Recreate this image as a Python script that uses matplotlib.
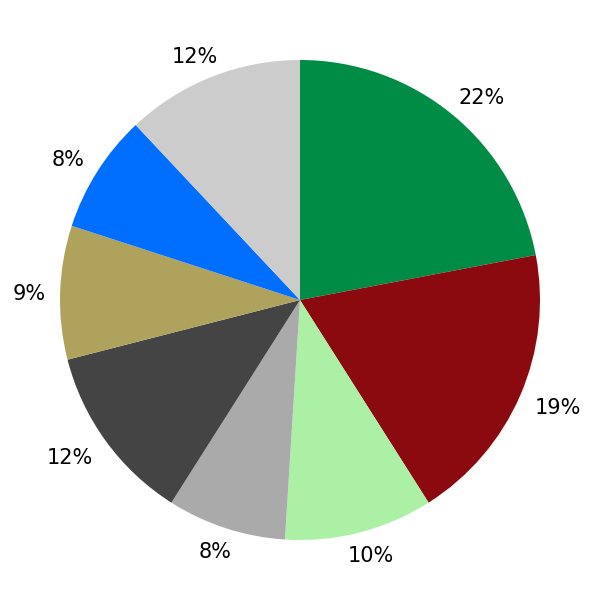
import matplotlib
matplotlib.use("Agg")
import numpy as np
import matplotlib.pyplot as plt

# доли секторов (по часовой стрелке от вершины)
shares = [22, 19, 10, 8, 12, 9, 8, 12]
colors = ["#008c45", "#8b0a10", "#acf0a6", "#aaaaaa",
          "#444444", "#afa25c", "#006eff", "#cccccc"]
labels = [f"{s}%" for s in shares]

fig = plt.figure(figsize=(6, 6), dpi=100, facecolor="white")
ax = fig.add_axes([0.1, 0.1, 0.8, 0.8])
wedges, texts = ax.pie(shares, colors=colors, labels=labels,
                       startangle=90, counterclock=False,
                       labeldistance=1.054, radius=1,
                       wedgeprops=dict(linewidth=0),
                       textprops=dict(fontsize=15, color="black"))
ax.set_xlim(-1, 1)
ax.set_ylim(-1, 1)
ax.set_aspect("equal")
ax.axis("off")

# подписи снаружи: сдвигаем от точки на луче на часть своего размера
fig.canvas.draw()
renderer = fig.canvas.get_renderer()
px = 2.0 / (0.8 * 600)  # единиц данных на пиксель
for w, t in zip(wedges, texts):
    ang = np.deg2rad((w.theta1 + w.theta2) / 2)
    c, s = np.cos(ang), np.sin(ang)
    t.set_horizontalalignment("center")
    t.set_verticalalignment("center_baseline")
    bb = t.get_window_extent(renderer)
    x0, y0 = t.get_position()
    dx = bb.width / 2 * np.sign(c) * min(1.1, 1.4 * abs(c))
    dy = 8.5 * np.sign(s) * min(1.1, 1.5 * abs(s))
    t.set_position((x0 + dx * px, y0 + dy * px))

fig.savefig("out.png", dpi=100, facecolor="white")
